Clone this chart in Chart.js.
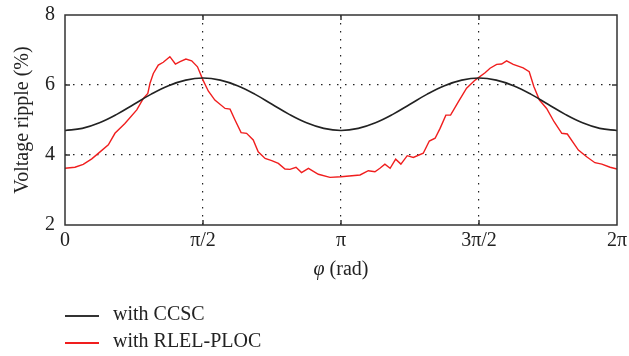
<!DOCTYPE html>
<html>
<head>
<meta charset="utf-8">
<script src="https://cdn.jsdelivr.net/npm/chart.js@4/dist/chart.umd.min.js"></script>
<style>
  body { margin: 0; background: #fff; }
  #wrap { position: relative; width: 629px; height: 356px; }
  .lbl { position: absolute; font-family: "Liberation Serif", serif; font-size: 20px; color: #222; white-space: nowrap; }
  .swatch { position: absolute; left: 65px; width: 34px; height: 1.5px; }
</style>
</head>
<body>
<div id="wrap">
  <canvas id="ripple" width="629" height="356"></canvas>
  <div class="lbl" id="xtitle" style="left:341px; top:257px; transform:translateX(-50%);"><i>φ</i> (rad)</div>
  <div class="swatch" style="top:315px; background:#333;"></div>
  <div class="lbl" style="left:113px; top:302px;">with CCSC</div>
  <div class="swatch" style="top:342px; background:#f01e1e;"></div>
  <div class="lbl" style="left:113px; top:329px;">with RLEL-PLOC</div>
</div>
<script>
// phase in units of pi (0..2)
const ccscX = [0, 0.0625, 0.125, 0.1875, 0.25, 0.3125, 0.375, 0.4375, 0.5, 0.5625, 0.625, 0.6875, 0.75, 0.8125, 0.875, 0.9375, 1,
  1.0625, 1.125, 1.1875, 1.25, 1.3125, 1.375, 1.4375, 1.5, 1.5625, 1.625, 1.6875, 1.75, 1.8125, 1.875, 1.9375, 2]
const ccscY = [4.70, 4.76, 4.92, 5.16, 5.45, 5.74, 5.98, 6.14, 6.20, 6.14, 5.98, 5.74, 5.45, 5.16, 4.92, 4.76, 4.70,
  4.76, 4.92, 5.16, 5.45, 5.74, 5.98, 6.14, 6.20, 6.14, 5.98, 5.74, 5.45, 5.16, 4.92, 4.76, 4.70]

const plocX = [0, 0.036, 0.066, 0.097, 0.127, 0.157, 0.181, 0.217, 0.26, 0.284, 0.30, 0.308, 0.32, 0.338, 0.356, 0.38, 0.40,
  0.417, 0.438, 0.459, 0.48, 0.50, 0.519, 0.543, 0.58, 0.598, 0.616, 0.638, 0.658, 0.682, 0.70, 0.725, 0.749, 0.773,
  0.797, 0.815, 0.837, 0.857, 0.882, 0.918, 0.96, 1.0, 1.069, 1.099, 1.123, 1.141, 1.159, 1.178, 1.198, 1.217, 1.24,
  1.262, 1.298, 1.32, 1.341, 1.359, 1.38, 1.397, 1.425, 1.455, 1.486, 1.522, 1.54, 1.564, 1.582, 1.60, 1.624, 1.66,
  1.682, 1.699, 1.719, 1.745, 1.772, 1.80, 1.82, 1.86, 1.89, 1.92, 1.945, 1.975, 2.0]
const plocY = [3.62, 3.65, 3.73, 3.89, 4.09, 4.29, 4.62, 4.90, 5.29, 5.62, 5.76, 6.05, 6.33, 6.57, 6.65, 6.81, 6.60,
  6.67, 6.74, 6.69, 6.52, 6.14, 5.83, 5.57, 5.33, 5.31, 5.00, 4.64, 4.62, 4.43, 4.09, 3.90, 3.84, 3.76,
  3.60, 3.59, 3.65, 3.50, 3.62, 3.45, 3.36, 3.38, 3.43, 3.55, 3.52, 3.62, 3.74, 3.62, 3.88, 3.74, 3.98,
  3.93, 4.05, 4.40, 4.48, 4.76, 5.14, 5.14, 5.52, 5.91, 6.14, 6.35, 6.48, 6.59, 6.60, 6.69, 6.59, 6.49,
  6.38, 5.95, 5.57, 5.33, 4.95, 4.62, 4.60, 4.14, 3.95, 3.78, 3.74, 3.65, 3.60]

const xTickLabels = ['0', 'π/2', 'π', '3π/2', '2π']
const yTicks = [2, 4, 6, 8]

const toPoints = function (xs, ys) {
  return xs.map((x, i) => ({ x: x, y: ys[i] }))
}

const serif = { family: '"Liberation Serif", serif', size: 20 }

// frame + small inward ticks, like the original plot
const framePlugin = {
  id: 'frame',
  afterDatasetsDraw(chart) {
    const { ctx, chartArea: a, scales } = chart
    ctx.save()
    ctx.strokeStyle = '#333'
    ctx.lineWidth = 1.5
    ctx.strokeRect(a.left, a.top, a.right - a.left, a.bottom - a.top)
    ctx.beginPath()
    ;[0.5, 1, 1.5].forEach(v => {
      const px = scales.x.getPixelForValue(v)
      ctx.moveTo(px, a.bottom); ctx.lineTo(px, a.bottom - 5)
      ctx.moveTo(px, a.top); ctx.lineTo(px, a.top + 5)
    })
    ;[4, 6].forEach(v => {
      const py = scales.y.getPixelForValue(v)
      ctx.moveTo(a.left, py); ctx.lineTo(a.left + 5, py)
      ctx.moveTo(a.right, py); ctx.lineTo(a.right - 5, py)
    })
    ctx.stroke()
    ctx.restore()
  }
}

const inner = (ctx) => {
  const v = ctx.tick ? ctx.tick.value : null
  return (v === null || v <= ctx.scale.min || v >= ctx.scale.max) ? 'rgba(0,0,0,0)' : '#222'
}

new Chart(document.getElementById('ripple').getContext('2d'), {
  type: 'line',
  data: {
    datasets: [{
      label: 'with CCSC',
      data: toPoints(ccscX, ccscY),
      borderColor: '#222',
      borderWidth: 1.6,
      pointRadius: 0,
      tension: 0.4
    }, {
      label: 'with RLEL-PLOC',
      data: toPoints(plocX, plocY),
      borderColor: '#f01e1e',
      borderWidth: 1.4,
      pointRadius: 0,
      tension: 0
    }]
  },
  options: {
    responsive: false,
    animation: false,
    layout: { padding: { left: 0, right: 12, top: 15, bottom: 101 } },
    plugins: { legend: { display: false }, tooltip: { enabled: false } },
    scales: {
      x: {
        type: 'linear',
        min: 0,
        max: 2,
        afterFit: (s) => { s.height = 30; s.paddingLeft = 0; s.paddingRight = 0 },
        afterBuildTicks: (s) => { s.ticks = [0, 0.5, 1, 1.5, 2].map(v => ({ value: v })) },
        ticks: {
          color: '#222',
          font: serif,
          padding: 4,
          maxRotation: 0,
          callback: (v) => xTickLabels[Math.round(v * 2)]
        },
        grid: { color: inner, lineWidth: 1.2, drawTicks: false },
        border: { display: false, dash: [1.5, 6.5] }
      },
      y: {
        min: 2,
        max: 8,
        afterFit: (s) => { s.width = 65; s.paddingTop = 0; s.paddingBottom = 0 },
        afterBuildTicks: (s) => { s.ticks = yTicks.map(v => ({ value: v })) },
        ticks: { color: '#222', font: serif, padding: 10 },
        grid: { color: inner, lineWidth: 1.2, drawTicks: false },
        border: { display: false, dash: [1.5, 6.5] },
        title: {
          display: true,
          text: 'Voltage ripple (%)',
          color: '#222',
          font: serif,
          padding: { top: 11, bottom: 0 }
        }
      }
    }
  },
  plugins: [framePlugin]
})
</script>
</body>
</html>
